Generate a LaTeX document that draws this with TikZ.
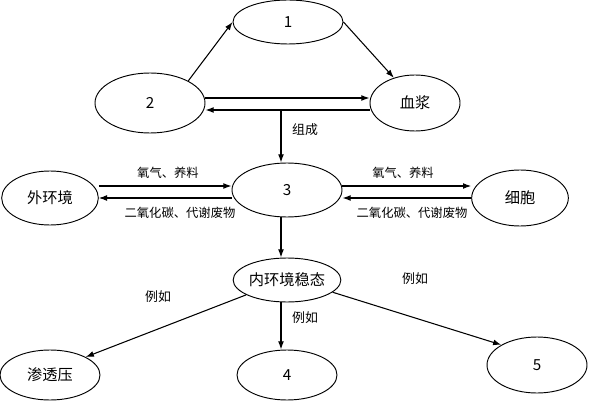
\documentclass[tikz,border=0pt]{standalone}
\usepackage{fontspec}
\setmainfont{Noto Sans CJK SC}
\usetikzlibrary{shapes.geometric,arrows.meta}
\begin{document}
\begin{tikzpicture}[x=0.03cm,y=-0.03cm,
  el/.style={draw,ellipse,line width=0.8pt,inner sep=0pt,font=\fontsize{13}{13}\selectfont},
  ar/.style={-{Latex[length=7pt,width=5pt]},line width=0.9pt},
  lb/.style={font=\fontsize{11}{11}\selectfont},
  sm/.style={font=\fontsize{10.5}{10.5}\selectfont}]
\useasboundingbox (0,0) rectangle (600,400);
\node[el,minimum width=3.3cm,minimum height=1.32cm] (n1) at (288,22) {1};
\node[el,minimum width=3.3cm,minimum height=1.8cm] (n2) at (150,103) {2};
\node[el,minimum width=2.7cm,minimum height=1.68cm] (bj) at (415,103) {血浆};
\node[el,minimum width=3.3cm,minimum height=1.62cm] (n3) at (287,190) {3};
\node[el,minimum width=2.9cm,minimum height=1.62cm] (wh) at (50,198) {外环境};
\node[el,minimum width=2.9cm,minimum height=1.68cm] (xb) at (520,198) {细胞};
\node[el,minimum width=3.0cm,minimum height=1.32cm] (nh) at (287,280) {内环境稳态};
\node[el,minimum width=3.0cm,minimum height=1.5cm] (st) at (50,375) {渗透压};
\node[el,minimum width=3.0cm,minimum height=1.5cm] (n4) at (287,375) {4};
\node[el,minimum width=3.0cm,minimum height=1.68cm] (n5) at (537,365) {5};
\draw[ar] (n2.30) -- (n1.west);
\draw[ar] (n1.east) -- (bj.130);
\draw[ar] (n2.east|-0,98) -- (bj.west|-0,98);
\draw[ar] (bj.west|-0,110) -- (n2.east|-0,110);
\coordinate (zc) at (281,110);
\draw[ar] (zc) -- (n3.north-|zc);
\node[lb,anchor=west] (zl) at (288,130) {组成};
\draw[ar] (wh.east|-0,186) -- (n3.west|-0,186);
\draw[ar] (n3.west|-0,198) -- (wh.east|-0,198);
\draw[ar] (n3.east|-0,186) -- (xb.west|-0,186);
\draw[ar] (xb.west|-0,198) -- (n3.east|-0,198);
\node[sm] (a1) at (168,173) {氧气、养料};
\node[sm] (a2) at (180,213) {二氧化碳、代谢废物};
\node[sm] (a3) at (403,173) {氧气、养料};
\node[sm] (a4) at (412,213) {二氧化碳、代谢废物};
\draw[ar] (n3.south-|zc) -- (nh.north-|zc);
\draw[ar] (nh.200) -- (st.north east);
\draw[ar] (nh.south-|zc) -- (n4.north-|zc);
\draw[ar] (nh.345) -- (n5.north west);
\node[lb] (e1) at (158,297) {例如};
\node[lb] (e2) at (305,318) {例如};
\node[lb] (e3) at (415,279) {例如};
\end{tikzpicture}
\end{document}
